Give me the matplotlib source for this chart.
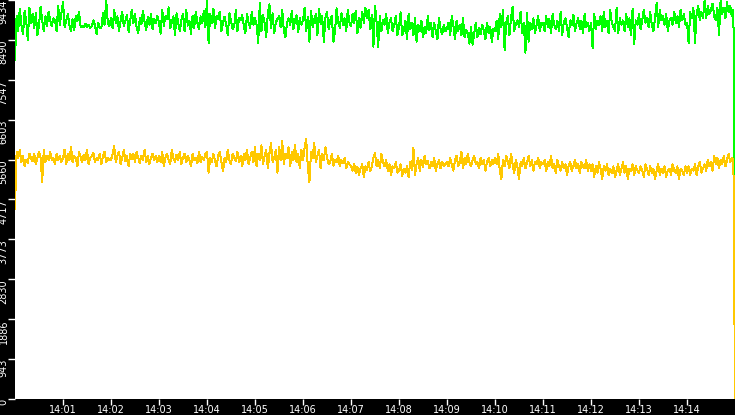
import matplotlib
matplotlib.use("Agg")
import matplotlib.pyplot as plt
import matplotlib.dates as mdates
import pandas as pd

# ---- data, one row per minute ----
green_values = [
    8020, 9060, 8700, 9230, 8850, 8620, 9180, 8950, 8480, 9250, 8900, 9100, 8760, 9120, 8600, 8840, 9280, 8950, 8700, 9050, 8820, 9150, 8950, 8820, 9000, 8960, 8700, 9300, 8850, 9120,
    9380, 8800, 8950, 9100, 8850, 8700, 8980, 8720, 9050, 8940, 9160, 8800, 8830, 8790, 8870, 8800, 8850, 8780, 8820, 8950, 8830, 8620, 8900, 8760, 8780, 9120, 8850, 9434, 8900, 8820,
    9000, 8760, 9200, 8880, 9050, 8700, 8950, 9150, 8820, 8950, 9080, 8680, 8940, 9200, 8890, 9100, 8780, 8660, 9000, 8860, 9180, 8900, 8720, 9030, 8850, 9100, 8740, 8980, 8880, 9060,
    8900, 8640, 9200, 8820, 9050, 8980, 9260, 8760, 8900, 9050, 8600, 9120, 8880, 8700, 8970, 9100, 8700, 9210, 8830, 8950, 8640, 9060, 8780, 9150, 8900, 8750, 9050, 8880, 9180, 8800,
    9434, 8420, 9100, 8900, 9230, 8760, 9050, 8980, 9160, 8700, 8900, 9040, 8850, 8600, 9120, 8930, 8750, 8800, 9200, 8700, 9000, 8950, 9080, 8820, 8650, 9100, 8900, 8780, 9150, 8850,
    9000, 8850, 8420, 9370, 8700, 9080, 8900, 8560, 9100, 9330, 8780, 9120, 8650, 8900, 8980, 9050, 8800, 9200, 8720, 8550, 8900, 9000, 8850, 9180, 8750, 8950, 9070, 8680, 9000, 8850,
    8950, 9250, 8700, 9030, 8450, 9180, 8800, 8960, 9100, 8600, 9220, 8870, 9050, 8450, 9000, 9150, 8750, 8950, 9060, 8450, 8680, 9240, 8900, 8780, 9120, 8850, 9000, 8700, 9200, 8900,
    8820, 9100, 8900, 9180, 8650, 9000, 8780, 9150, 8900, 9250, 9000, 9200, 8750, 9080, 8330, 9300, 8900, 8330, 9050, 8700, 8960, 8850, 9100, 8650, 8900, 9000, 8700, 8850, 9050, 8600,
    8800, 9140, 8600, 8700, 8950, 8500, 9100, 8750, 8880, 8600, 9000, 8450, 8850, 8700, 8950, 8550, 8800, 8650, 9050, 8720, 8880, 8560, 8900, 8700, 8500, 9000, 8750, 8620, 8850, 8700,
    8750, 8900, 8600, 9060, 8820, 8500, 8950, 8700, 8850, 8600, 9000, 8550, 8720, 8650, 8400, 8800, 8380, 8650, 8900, 8550, 8780, 8620, 8850, 8700, 8500, 8900, 8650, 8800, 8450, 8750,
    8700, 8950, 8500, 9100, 8800, 9200, 8250, 8900, 9050, 8600, 9000, 9280, 8700, 8850, 8950, 8800, 9150, 8650, 8900, 8190, 9130, 8450, 8900, 8750, 9000, 8650, 8850, 9050, 8700, 8900,
    8900, 8700, 9050, 8800, 8980, 8650, 9100, 8850, 8750, 8950, 8700, 9150, 8600, 8900, 9000, 8800, 8550, 8950, 8850, 9080, 8700, 8900, 9000, 8750, 8950, 8650, 9100, 8800, 8900, 8700,
    8900, 8300, 9100, 8750, 8950, 8850, 9050, 8700, 9150, 8800, 8950, 8650, 9200, 8900, 8800, 8700, 9250, 8650, 9000, 8850, 8950, 8700, 9100, 8800, 9000, 8600, 9230, 8400, 8950, 8850,
    9100, 8750, 8950, 9200, 8900, 9000, 8800, 9150, 8850, 8700, 9000, 9360, 8800, 9200, 8950, 9050, 8850, 9100, 8700, 8950, 9000, 8850, 9150, 8900, 9050, 8800, 9200, 8950, 9100, 8850,
    8900, 8420, 9150, 9000, 9250, 8420, 9100, 9300, 8950, 9150, 9000, 9434, 9000, 9300, 9100, 9200, 9350, 9050, 8950, 9250, 8600, 9434, 9100, 9250, 9000, 9380, 9150, 9300, 9050, 9200,
    2760,
]

yellow_values = [
    4500, 5850, 5700, 5900, 5600, 5750, 5500, 5650, 5580, 5800, 5700, 5620, 5800, 5550, 5700, 5850, 5700, 5130, 5900, 5600, 5750, 5650, 5850, 5650, 5700, 5550, 5800, 5650, 5750, 5600,
    5700, 5900, 5550, 5800, 5650, 5950, 5600, 5750, 5700, 5500, 5850, 5720, 5600, 5780, 5650, 5900, 5550, 5700, 5750, 5820, 5600, 5700, 5650, 5800, 5550, 5750, 5850, 5600, 5700, 5650,
    5650, 5800, 5980, 5600, 5750, 5850, 5550, 5700, 5900, 5620, 5750, 5500, 5800, 5680, 5800, 5600, 5850, 5700, 5580, 5750, 5650, 5900, 5600, 5750, 5550, 5700, 5800, 5650, 5750, 5600,
    5750, 5600, 5850, 5500, 5700, 5800, 5650, 5550, 5900, 5700, 5600, 5780, 5650, 5850, 5550, 5700, 5800, 5600, 5750, 5650, 5500, 5800, 5650, 5700, 5580, 5850, 5600, 5720, 5650, 5800,
    5850, 5350, 5700, 5600, 5800, 5650, 5500, 5750, 5850, 5600, 5380, 5700, 5600, 5900, 5650, 5550, 5800, 5700, 5620, 5850, 5600, 5750, 5500, 5800, 5650, 5900, 5550, 5700, 5850, 5600,
    5950, 5500, 5800, 5650, 6000, 5550, 5750, 5900, 5450, 5800, 6050, 5600, 5700, 5880, 5350, 5950, 5650, 6100, 5550, 5800, 5700, 5950, 5500, 5850, 5650, 6000, 5600, 5800, 5450, 5900,
    5650, 5950, 6150, 5500, 5130, 5850, 5700, 6050, 5600, 5750, 5900, 5450, 5800, 5650, 5950, 5700, 5550, 5600, 5800, 5520, 5650, 5600, 5750, 5500, 5650, 5580, 5700, 5450, 5600, 5550,
    5500, 5400, 5550, 5350, 5480, 5300, 5450, 5550, 5250, 5500, 5420, 5600, 5380, 5500, 5700, 5820, 5500, 5650, 5450, 5800, 5600, 5500, 5650, 5400, 5550, 5300, 5500, 5450, 5600, 5350,
    5400, 5550, 5280, 5450, 5350, 5500, 5250, 5600, 5420, 5940, 5300, 5550, 5700, 5400, 5650, 5480, 5750, 5550, 5620, 5450, 5600, 5500, 5700, 5400, 5550, 5650, 5450, 5600, 5500, 5550,
    5600, 5500, 5700, 5550, 5400, 5650, 5750, 5500, 5600, 5850, 5450, 5700, 5550, 5800, 5600, 5500, 5650, 5750, 5550, 5600, 5450, 5700, 5550, 5650, 5400, 5600, 5700, 5500, 5650, 5550,
    5700, 5550, 5800, 5400, 5200, 5650, 5500, 5750, 5600, 5450, 5800, 5550, 5350, 5650, 5500, 5200, 5600, 5500, 5700, 5450, 5600, 5750, 5500, 5650, 5400, 5600, 5550, 5700, 5450, 5600,
    5550, 5650, 5400, 5600, 5500, 5750, 5450, 5550, 5350, 5650, 5500, 5400, 5600, 5450, 5550, 5300, 5500, 5600, 5400, 5500, 5650, 5450, 5550, 5350, 5600, 5500, 5450, 5650, 5400, 5550,
    5400, 5550, 5250, 5500, 5350, 5600, 5450, 5200, 5500, 5400, 5550, 5300, 5450, 5350, 5500, 5250, 5400, 5550, 5300, 5450, 5600, 5350, 5500, 5200, 5450, 5400, 5550, 5300, 5500, 5400,
    5350, 5500, 5400, 5250, 5550, 5450, 5300, 5500, 5350, 5450, 5200, 5400, 5550, 5300, 5450, 5350, 5500, 5250, 5400, 5450, 5300, 5550, 5400, 5350, 5500, 5200, 5450, 5400, 5300, 5500,
    5350, 5500, 5300, 5450, 5400, 5550, 5300, 5500, 5600, 5350, 5450, 5550, 5400, 5650, 5500, 5600, 5400, 5750, 5550, 5700, 5450, 5650, 5550, 5750, 5500, 5650, 5800, 5600, 5700, 5650,
    0,
]

y_ticks = [0, 943, 1886, 2830, 3773, 4717, 5660, 6603, 7547, 8490, 9434]
start_time = "2024-01-01 14:00:00"
end_time = "2024-01-01 14:15:00"

green_times = pd.date_range(start_time, end_time, periods=len(green_values))
yellow_times = pd.date_range(start_time, end_time, periods=len(yellow_values))

W, H = 735, 415
fig = plt.figure(figsize=(W / 100, H / 100), dpi=100, facecolor="black")
ax = fig.add_axes([15 / W, 16 / H, 720 / W, 399 / H], facecolor="white")

ax.plot(green_times, green_values, color="#00ff00", linewidth=0.72, antialiased=False, zorder=2)
ax.plot(yellow_times, yellow_values, color="#ffc800", linewidth=0.72, antialiased=False, zorder=3)

ax.set_xlim(pd.Timestamp(start_time), pd.Timestamp(end_time))
ax.set_ylim(0, 9434)

for s in ax.spines.values():
    s.set_visible(False)

font = ["Liberation Sans Narrow", "DejaVu Sans"]

ax.xaxis.set_major_locator(mdates.MinuteLocator(byminute=range(1, 15)))
ax.xaxis.set_major_formatter(mdates.DateFormatter("%H:%M"))
ax.tick_params(axis="x", colors="white", direction="out", length=4.5, width=1, pad=0, labelsize=7)
ax.set_yticks(y_ticks)
ax.set_yticklabels([str(v) for v in y_ticks])
ax.tick_params(axis="y", colors="white", direction="out", length=5, width=1, pad=3.2, labelsize=7)

for lbl in ax.get_xticklabels():
    lbl.set_family(font)
    lbl.set_color("white")
for lbl in ax.get_yticklabels():
    lbl.set_family(font)
    lbl.set_color("white")
    lbl.set_rotation(90)
    lbl.set_va("top")
    lbl.set_ha("center")

fig.savefig("out.png", dpi=100, facecolor="black")
